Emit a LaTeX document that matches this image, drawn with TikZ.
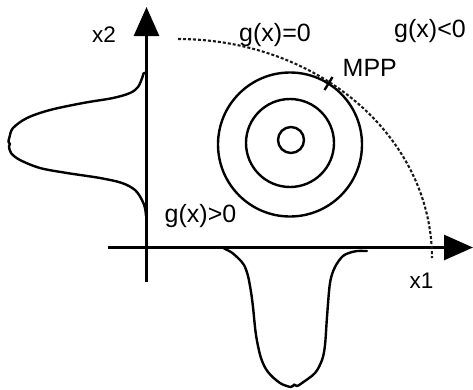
\documentclass[tikz,border=0pt]{standalone}
\usepackage{fontspec}
\setmainfont{Liberation Sans}
\usetikzlibrary{arrows.meta}
\begin{document}
\begin{tikzpicture}[x=1pt,y=-1pt,
  axis/.style={line width=2.8pt,-{Triangle[length=29pt,width=25pt]}},
  curve/.style={line width=2.4pt, line join=round, line cap=round},
  limit/.style={line width=2.1pt, dash pattern=on 3pt off 2pt, black!90},
  lbl/.style={inner sep=0pt, anchor=base west, font=\fontsize{25}{29}\selectfont},
  axlbl/.style={inner sep=0pt, anchor=base west, font=\fontsize{22.5}{26}\selectfont}]
\useasboundingbox (0,0) rectangle (473,389);
% axes
\coordinate (ox) at (108,247.5);
\coordinate (xe) at (473,248.5);
\coordinate (oy) at (146.5,282);
\coordinate (ye) at (146.5,7);
\draw[axis] (ox) -- (xe |- ox);
\draw[axis] (oy) -- (ye);
% labels
\node[axlbl] (lx2) at (92,42.7) {x2};
\node[axlbl] (lx1) at (409.5,288) {x1};
\node[lbl] (geq) at (239,41) {g(x)=0};
\node[lbl] (glt) at (394,37.5) {g(x)<0};
\node[lbl] (ggt) at (164.5,222.5) {g(x)>0};
\node[lbl] (mpp) at (342.5,76) {MPP};
% contours
\draw[curve] (291,140) circle[radius=13];
\draw[curve] (290,143) circle[radius=44];
\draw[curve] (290,144.5) circle[radius=72];
% limit state
\draw[limit] plot[domain=90:0, samples=80] ({178+254*cos(\x)},{258-219*sin(\x)});
% MPP tick
\coordinate (t1) at (324.5,90);
\coordinate (t2) at (332.5,77);
\draw[line width=2.4pt] (t1) -- (t2);
% x2 marginal density
\draw[curve] plot[smooth, tension=0.55] coordinates {
 (146.5,72.5) (143.5,73.5) (142.5,77) (138,87) (130,93) (113,98) (83,103)
 (50,110) (27,118) (13,128) (9.5,137) (8.5,142) (10,144) (9,146) (11,153) (20,160)
 (40,168) (67,173) (100,178) (122,183) (135,190) (142,200) (145,208) (146,216)};
% x1 marginal density
\draw[curve] plot[smooth, tension=0.55] coordinates {
 (222,247) (226,249.5) (231,252) (238,258) (244,265) (248,276) (251,292)
 (253,307) (256,335) (261,358) (268,372) (280,383) (291,387) (294,384.5) (297,386)
 (302,383) (315,373) (322,360) (325,345) (327,317) (330,283) (335,267)
 (343,256) (352,252) (357,251) (367,251)};
\end{tikzpicture}
\end{document}
